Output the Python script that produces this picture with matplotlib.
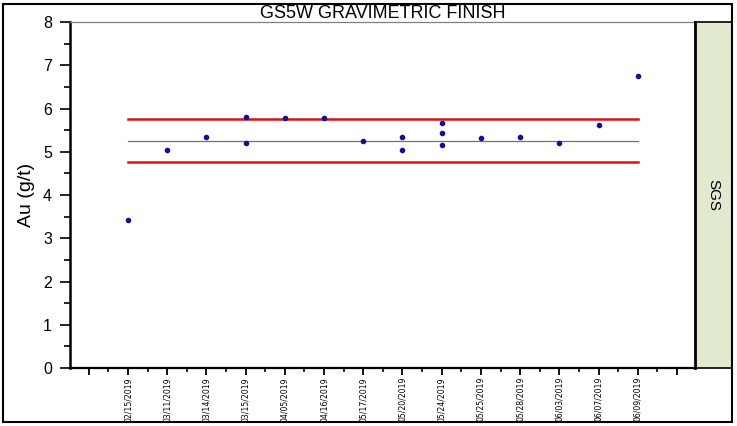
import matplotlib
matplotlib.use("Agg")
import matplotlib.pyplot as plt
from matplotlib.patches import Rectangle
from matplotlib.ticker import MultipleLocator

plt.rcParams['font.family'] = ['Liberation Sans', 'DejaVu Sans']

# fechas de muestreo (etiquetas del eje x)
fechas = ['02/15/2019', '03/11/2019', '03/14/2019', '03/15/2019', '04/05/2019',
          '04/16/2019', '05/17/2019', '05/20/2019', '05/24/2019', '05/25/2019',
          '05/28/2019', '06/03/2019', '06/07/2019', '06/09/2019']

# leyes Au (g/t) por fecha (varios resultados en algunas fechas)
leyes = [[3.42], [5.03], [5.35], [5.81, 5.20], [5.79], [5.77], [5.26],
         [5.33, 5.03], [5.66, 5.43, 5.16], [5.31], [5.33], [5.20], [5.61], [6.74]]

media = 5.26
lim_sup = 5.76
lim_inf = 4.77

fig = plt.figure(figsize=(7.37, 4.26), dpi=100)
W, H = 737, 426
ax = fig.add_axes([70 / W, (H - 368) / H, (695 - 70) / W, (368 - 22) / H])

xs, ys = [], []
for i, vals in enumerate(leyes):
    for v in vals:
        xs.append(i + 1)
        ys.append(v)

ax.plot(xs, ys, 'o', color='#10109a', markersize=3, zorder=3)

x0, x1 = 1, len(fechas)
ax.plot([x0, x1], [lim_sup, lim_sup], color='#e01010', lw=1.8)
ax.plot([x0, x1], [lim_inf, lim_inf], color='#e01010', lw=1.8)
ax.plot([x0, x1], [media, media], color='#707070', lw=0.9)

ax.set_xlim(-0.48, len(fechas) + 1.46)
ax.set_ylim(0, 8)

ax.set_xticks(range(0, len(fechas) + 2))
ax.set_xticklabels([''] + fechas + [''], rotation=90,
                   family=['Liberation Sans Narrow', 'DejaVu Sans'], fontsize=5.6)
ax.xaxis.set_minor_locator(MultipleLocator(0.5))
ax.yaxis.set_major_locator(MultipleLocator(1))
ax.yaxis.set_minor_locator(MultipleLocator(0.5))
ax.tick_params(axis='y', which='major', length=7, width=1.2, labelsize=11.5, pad=6)
ax.tick_params(axis='y', which='minor', length=4, width=1.2)
ax.tick_params(axis='x', which='major', length=5, width=1.3, pad=1.5)
ax.tick_params(axis='x', which='minor', length=3, width=1.2)

ax.spines['left'].set_linewidth(1.8)
ax.spines['bottom'].set_linewidth(1.6)
ax.spines['top'].set_color('#808080')
ax.spines['top'].set_linewidth(0.9)
ax.spines['right'].set_visible(False)

ax.set_ylabel('Au (g/t)', fontsize=14, labelpad=6)
ax.set_title('GS5W GRAVIMETRIC FINISH', fontsize=13, pad=1)

# panel lateral SGS
pan = fig.add_axes([695 / W, (H - 368) / H, (732 - 695) / W, (368 - 22) / H])
pan.set_facecolor('#e1e9cf')
pan.set_xticks([])
pan.set_yticks([])
for s in pan.spines.values():
    s.set_linewidth(1.2)
pan.spines['left'].set_linewidth(2)
pan.text(0.5, 0.5, 'SGS', rotation=270, ha='center', va='center',
         fontsize=11, transform=pan.transAxes)

# borde exterior
fig.add_artist(Rectangle((3 / W, 4 / H), (732 - 3) / W, (422 - 4) / H,
                         transform=fig.transFigure, fill=False,
                         edgecolor='black', lw=1.5))

fig.savefig('out.png', dpi=100)
